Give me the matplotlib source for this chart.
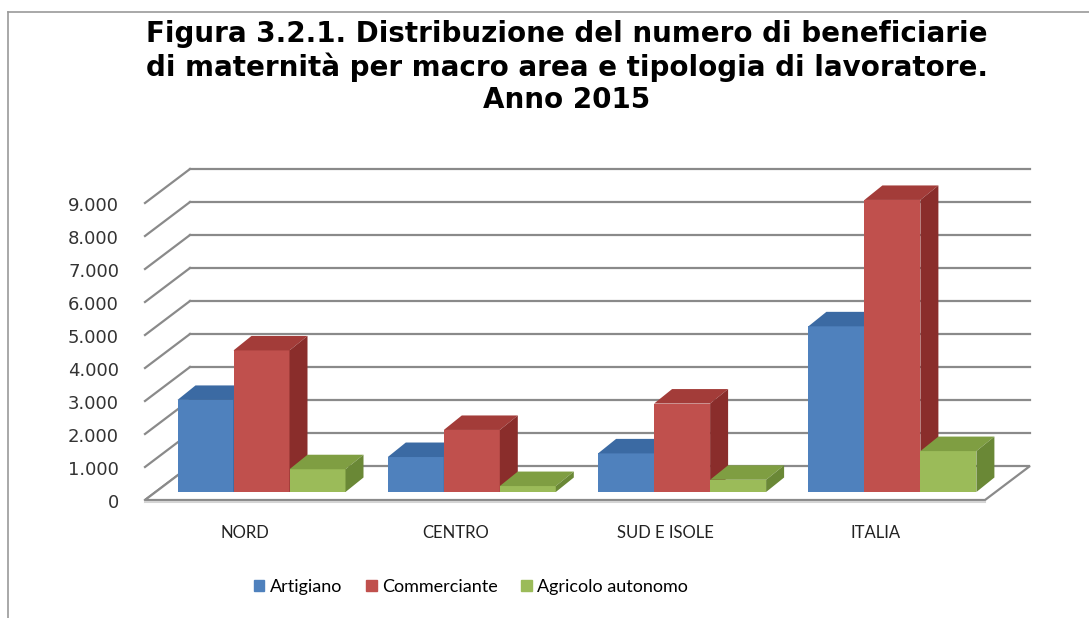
import matplotlib
matplotlib.use("Agg")
import matplotlib.pyplot as plt
from matplotlib.patches import Polygon
from matplotlib.lines import Line2D

# dati
aree = ["NORD", "CENTRO", "SUD E ISOLE", "ITALIA"]
serie = ["Artigiano", "Commerciante", "Agricolo autonomo"]
artigiano = [2790, 1060, 1170, 5020]
commerciante = [4290, 1880, 2680, 8850]
agricolo = [690, 180, 370, 1240]
yticks = [0, 1000, 2000, 3000, 4000, 5000, 6000, 7000, 8000, 9000]
ylabels = ["0", "1.000", "2.000", "3.000", "4.000", "5.000", "6.000", "7.000", "8.000", "9.000"]

valori = [artigiano, commerciante, agricolo]
col_front = ["#4F81BD", "#C0504D", "#9BBB59"]
col_top = ["#3B6AA3", "#A33C39", "#7F9E42"]
col_side = ["#305A8C", "#8A2D2B", "#6A8836"]

W, H = 1089, 618
fig = plt.figure(figsize=(W / 100, H / 100), dpi=100)
fig.patch.set_facecolor("white")

# scala: pixel = X0 + SX*x ; pixel_y = Y0 - SY*v
X0, SX = 261.5, 210.3
Y0, SY = 492.0, 0.033
xa, xb = -0.8, 3.8
ya, yb = -1500, 11000
left, right = X0 + SX * xa, X0 + SX * xb
top, bottom = Y0 - SY * yb, Y0 - SY * ya
ax = fig.add_axes([left / W, 1 - bottom / H, (right - left) / W, (bottom - top) / H])
ax.set_xlim(xa, xb)
ax.set_ylim(ya, yb)
ax.axis("off")

# profondita' pavimento / barre
fdx, fdv = 45 / SX, 34 / SY
bdx, bdv = 18 / SX, 14.5 / SY
f_front = -8 / SY
fx0, fx1 = (145 - X0) / SX, (985 - X0) / SX
grid_c = "#8a8a8a"

# pareti: griglia
for v in yticks:
    ax.plot([fx0, fx0 + fdx], [v + f_front, v + f_front + fdv], color=grid_c, lw=1.6, zorder=1)
    if v > 0:
        ax.plot([fx0 + fdx, fx1 + fdx], [v + f_front + fdv] * 2, color=grid_c, lw=1.6, zorder=1)

# pavimento
floor = Polygon([(fx0, f_front), (fx1, f_front), (fx1 + fdx, f_front + fdv), (fx0 + fdx, f_front + fdv)],
                closed=True, facecolor="white", edgecolor=grid_c, lw=1.6, zorder=1)
ax.add_patch(floor)
ax.plot([fx0, fx1], [f_front - 60, f_front - 60], color="#d4d4d4", lw=1.5, zorder=1)

# barre 3D
bw = 56 / SX
for i in range(len(aree)):
    for s in range(3):
        x = i + (s - 1) * bw
        v = valori[s][i]
        ax.bar(x, v, width=bw, color=col_front[s], zorder=3 + s, linewidth=0)
        xl, xr = x - bw / 2, x + bw / 2
        ax.add_patch(Polygon([(xl, v), (xr, v), (xr + bdx, v + bdv), (xl + bdx, v + bdv)],
                             closed=True, facecolor=col_top[s], lw=0, zorder=3 + s))
        ax.add_patch(Polygon([(xr, 0), (xr + bdx, bdv), (xr + bdx, v + bdv), (xr, v)],
                             closed=True, facecolor=col_side[s], lw=0, zorder=3 + s))

# etichette asse y
for v, lab in zip(yticks, ylabels):
    ax.text((119 - X0) / SX, v + f_front - 100, lab, ha="right", va="center",
            fontsize=13, family="DejaVu Sans", color="#333333")

# etichette categorie
for i, a in enumerate(aree):
    ax.text(i + (245 - X0) / SX, (Y0 - 533) / SY, a, ha="center", va="center",
            fontsize=12, family="Lato", color="#222222")

# titolo
fig.text(567 / W, 1 - 67 / H,
         "Figura 3.2.1. Distribuzione del numero di beneficiarie\n"
         "di maternità per macro area e tipologia di lavoratore.\n"
         "Anno 2015",
         ha="center", va="center", fontsize=20, fontweight="bold",
         family="DejaVu Sans", linespacing=1.18, color="#000000")

# legenda
handles = [plt.Rectangle((0, 0), 1, 1, color=c) for c in col_front]
fig.legend(handles, serie, loc="center", bbox_to_anchor=(471 / W, 1 - 587 / H), ncol=3,
           frameon=False, prop={"family": "Lato", "size": 13}, handlelength=0.6,
           handleheight=0.6, handletextpad=0.3, columnspacing=1.3)

# bordo dell'area grafico
fig.add_artist(Line2D([8 / W, 1], [1 - 12 / H] * 2, color="#9a9a9a", lw=1.2))
fig.add_artist(Line2D([8 / W] * 2, [0, 1 - 12 / H], color="#9a9a9a", lw=1.2))

fig.savefig("out.png", dpi=100)
